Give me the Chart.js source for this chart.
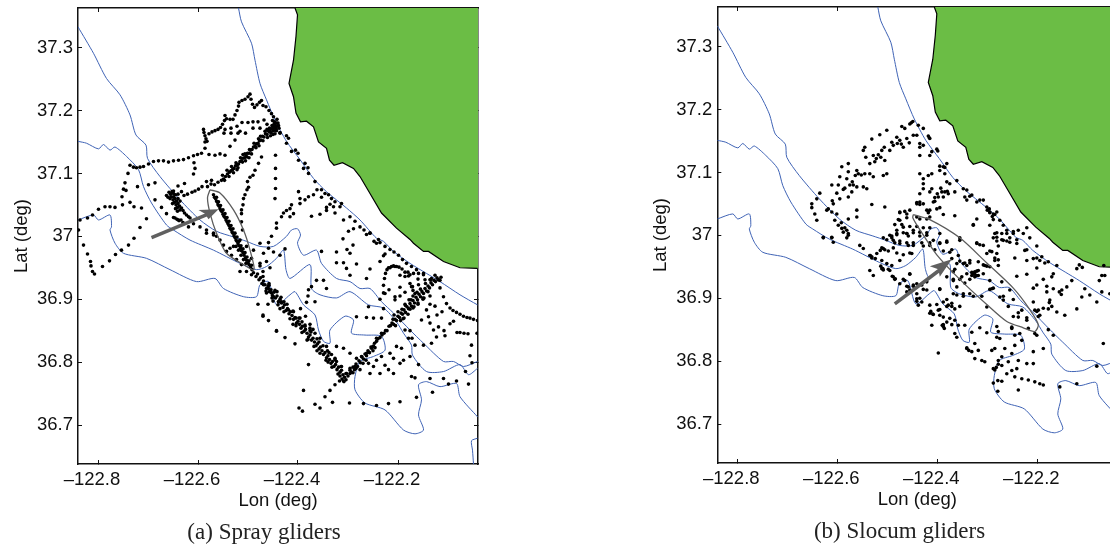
<!DOCTYPE html>
<html>
<head>
<meta charset="utf-8">
<title>Glider tracks</title>
<script src="https://cdn.jsdelivr.net/npm/chart.js@4"></script>
<style>
html, body { margin: 0; padding: 0; background: #fff; overflow: hidden; width: 1110px; height: 545px; }
canvas { position: absolute; }
</style>
</head>
<body>
<canvas id="spray" width="528" height="545" style="left:0;top:0"></canvas>
<canvas id="slocum" width="521" height="545" style="left:639px;top:-1px"></canvas>
<script>
const lonTicks = [-122.8, -122.6, -122.4, -122.2];
const lonTickLabels = ['\u2013122.8', '\u2013122.6', '\u2013122.4', '\u2013122.2'];
const latTicks = [37.3, 37.2, 37.1, 37, 36.9, 36.8, 36.7];
const latTickLabels = ['37.3', '37.2', '37.1', '37', '36.9', '36.8', '36.7'];
const lonRange = [-122.84, -122.04];
const latRange = [36.638, 37.363];

/* coast and land */
const coast = [[-122.406,37.363],[-122.401,37.352],[-122.404,37.318],[-122.409,37.280],[-122.418,37.243],[-122.409,37.222],[-122.404,37.196],[-122.395,37.182],[-122.383,37.183],[-122.369,37.174],[-122.359,37.150],[-122.343,37.140],[-122.337,37.121],[-122.328,37.113],[-122.311,37.117],[-122.289,37.108],[-122.276,37.095],[-122.256,37.068],[-122.233,37.037],[-122.203,37.013],[-122.176,36.995],[-122.169,36.989],[-122.149,36.976],[-122.139,36.976],[-122.109,36.960],[-122.076,36.950],[-122.041,36.949]];
const landCorners = [[-122.036,36.949],[-122.036,37.368],[-122.406,37.368]];

/* depth contours */
const contourA = [[-122.519,37.363],[-122.513,37.341],[-122.493,37.307],[-122.486,37.280],[-122.476,37.243],[-122.463,37.217],[-122.446,37.185],[-122.423,37.151],[-122.396,37.122],[-122.369,37.092],[-122.343,37.071],[-122.303,37.045],[-122.276,37.026],[-122.243,36.997],[-122.229,36.992],[-122.209,36.976],[-122.176,36.957],[-122.143,36.941],[-122.116,36.928],[-122.076,36.907],[-122.041,36.891]];
const contourB = [[-122.840,37.333],[-122.809,37.291],[-122.783,37.251],[-122.756,37.225],[-122.736,37.193],[-122.724,37.161],[-122.704,37.145],[-122.701,37.124],[-122.676,37.095],[-122.636,37.058],[-122.596,37.026],[-122.563,37.008],[-122.529,36.999],[-122.503,36.992],[-122.476,36.984],[-122.449,36.984],[-122.423,37.000],[-122.413,37.010],[-122.401,37.012],[-122.395,37.002],[-122.401,36.989],[-122.389,36.970],[-122.363,36.978],[-122.353,36.957],[-122.323,36.933],[-122.296,36.928],[-122.276,36.917],[-122.256,36.917],[-122.233,36.896],[-122.209,36.878],[-122.176,36.851],[-122.149,36.830],[-122.109,36.801],[-122.089,36.801],[-122.069,36.793],[-122.041,36.801]];
const contourC = [[-122.840,37.151],[-122.823,37.148],[-122.799,37.139],[-122.789,37.146],[-122.776,37.137],[-122.766,37.142],[-122.743,37.127],[-122.719,37.106],[-122.709,37.079],[-122.693,37.053],[-122.663,37.018],[-122.649,37.010],[-122.616,36.994],[-122.569,36.978],[-122.516,36.957],[-122.483,36.947],[-122.463,36.952],[-122.443,36.965],[-122.429,36.978],[-122.424,36.947],[-122.416,36.933],[-122.376,36.955],[-122.373,36.917],[-122.356,36.907],[-122.323,36.902],[-122.296,36.912],[-122.259,36.891],[-122.229,36.886],[-122.203,36.864],[-122.189,36.846],[-122.173,36.827],[-122.171,36.811],[-122.143,36.785],[-122.109,36.785],[-122.076,36.796],[-122.059,36.780],[-122.041,36.790]];
const contourD = [[-122.840,37.026],[-122.809,37.034],[-122.799,37.026],[-122.776,37.034],[-122.773,37.015],[-122.776,37.010],[-122.766,36.989],[-122.749,36.973],[-122.703,36.965],[-122.656,36.947],[-122.603,36.928],[-122.566,36.933],[-122.549,36.917],[-122.509,36.904],[-122.483,36.904],[-122.476,36.923],[-122.459,36.928],[-122.443,36.891],[-122.416,36.907],[-122.406,36.912],[-122.389,36.891],[-122.366,36.875],[-122.359,36.851],[-122.349,36.833],[-122.336,36.830],[-122.336,36.851],[-122.306,36.873],[-122.289,36.867],[-122.293,36.846],[-122.266,36.843],[-122.233,36.841],[-122.226,36.819],[-122.249,36.809],[-122.276,36.801],[-122.286,36.777],[-122.286,36.756],[-122.266,36.735],[-122.226,36.724],[-122.189,36.692],[-122.166,36.686],[-122.149,36.692],[-122.159,36.716],[-122.153,36.740],[-122.159,36.764],[-122.143,36.769],[-122.116,36.761],[-122.083,36.766],[-122.076,36.745],[-122.041,36.713]];
const contourE = [[-122.041,36.679],[-122.053,36.675],[-122.051,36.660],[-122.049,36.638]];

/* spray gliders */
const sprayNorthLeg = [[-122.443,37.180],[-122.446,37.176],[-122.448,37.178],[-122.450,37.172],[-122.452,37.176],[-122.455,37.170],[-122.457,37.166],[-122.460,37.168],[-122.462,37.162],[-122.465,37.163],[-122.468,37.158],[-122.471,37.159],[-122.474,37.153],[-122.477,37.152],[-122.480,37.148],[-122.483,37.147],[-122.486,37.143],[-122.489,37.142],[-122.492,37.138],[-122.495,37.137],[-122.498,37.132],[-122.501,37.132],[-122.504,37.128],[-122.507,37.125],[-122.510,37.124],[-122.513,37.120],[-122.516,37.119],[-122.519,37.115],[-122.522,37.113],[-122.525,37.112],[-122.528,37.108],[-122.531,37.106],[-122.534,37.104],[-122.537,37.102],[-122.541,37.099],[-122.545,37.095],[-122.549,37.091],[-122.553,37.089],[-122.560,37.086],[-122.567,37.082],[-122.574,37.083],[-122.581,37.079],[-122.441,37.175],[-122.444,37.170],[-122.447,37.182],[-122.438,37.172],[-122.442,37.186],[-122.451,37.184],[-122.436,37.165],[-122.446,37.163],[-122.455,37.160],[-122.462,37.170],[-122.478,37.144],[-122.498,37.125],[-122.510,37.130],[-122.522,37.106],[-122.505,37.120],[-122.449,37.168],[-122.453,37.171],[-122.457,37.172],[-122.461,37.157],[-122.466,37.167],[-122.470,37.152],[-122.475,37.159],[-122.479,37.155],[-122.484,37.141],[-122.488,37.148],[-122.493,37.131],[-122.497,37.138],[-122.502,37.126],[-122.506,37.131],[-122.511,37.118],[-122.515,37.125],[-122.520,37.109],[-122.524,37.117],[-122.529,37.101],[-122.533,37.111],[-122.538,37.095],[-122.542,37.105],[-122.547,37.089],[-122.551,37.097],[-122.440,37.180],[-122.445,37.172],[-122.449,37.175],[-122.443,37.168],[-122.439,37.176],[-122.454,37.165],[-122.450,37.162]];
const sprayWiggle = [[-122.589,37.170],[-122.588,37.165],[-122.586,37.160],[-122.584,37.155],[-122.582,37.151],[-122.586,37.150],[-122.578,37.163],[-122.572,37.166],[-122.566,37.168],[-122.560,37.170],[-122.555,37.173],[-122.551,37.178],[-122.547,37.184],[-122.546,37.192],[-122.543,37.187],[-122.536,37.186],[-122.530,37.186],[-122.526,37.193],[-122.522,37.200],[-122.519,37.207],[-122.518,37.213],[-122.512,37.216],[-122.506,37.218],[-122.500,37.222],[-122.496,37.226],[-122.494,37.218],[-122.491,37.210],[-122.487,37.205],[-122.482,37.209],[-122.477,37.213],[-122.473,37.216],[-122.470,37.208],[-122.464,37.206],[-122.458,37.200],[-122.453,37.195],[-122.449,37.190],[-122.546,37.170],[-122.534,37.172],[-122.522,37.175],[-122.512,37.181],[-122.500,37.181],[-122.490,37.182],[-122.480,37.182],[-122.468,37.185],[-122.548,37.164],[-122.534,37.164],[-122.520,37.164],[-122.505,37.164],[-122.490,37.172],[-122.476,37.172],[-122.462,37.178],[-122.736,37.113],[-122.729,37.110],[-122.723,37.109],[-122.716,37.110],[-122.709,37.111],[-122.699,37.115],[-122.689,37.119],[-122.679,37.120],[-122.669,37.120],[-122.659,37.118],[-122.649,37.120],[-122.639,37.121],[-122.629,37.122],[-122.619,37.125],[-122.609,37.128],[-122.601,37.130],[-122.593,37.132],[-122.586,37.140],[-122.578,37.130],[-122.566,37.129],[-122.556,37.131],[-122.546,37.129],[-122.536,37.143],[-122.526,37.153],[-122.516,37.167],[-122.608,37.117],[-122.606,37.108],[-122.609,37.099],[-122.627,37.084],[-122.640,37.080],[-122.649,37.072],[-122.660,37.062]];
const sprayBlob = [[-122.663,37.065],[-122.658,37.070],[-122.652,37.071],[-122.645,37.066],[-122.633,37.071],[-122.628,37.065],[-122.636,37.056],[-122.649,37.063],[-122.646,37.060],[-122.650,37.058],[-122.643,37.056],[-122.647,37.054],[-122.640,37.052],[-122.644,37.050],[-122.637,37.048],[-122.641,37.046],[-122.633,37.045],[-122.636,37.042],[-122.630,37.041],[-122.627,37.037],[-122.623,37.034],[-122.619,37.031],[-122.616,37.029],[-122.654,37.063],[-122.656,37.060],[-122.651,37.052],[-122.646,37.029],[-122.642,37.027],[-122.638,37.025],[-122.634,37.026],[-122.630,37.022],[-122.621,37.067],[-122.612,37.070],[-122.606,37.072],[-122.599,37.075],[-122.592,37.079],[-122.583,37.087],[-122.573,37.089],[-122.655,37.067],[-122.649,37.068],[-122.640,37.060],[-122.645,37.044],[-122.641,37.040],[-122.640,37.067]];
const sprayInnerLeg = [[-122.569,37.066],[-122.567,37.062],[-122.565,37.060],[-122.563,37.056],[-122.561,37.054],[-122.560,37.050],[-122.558,37.048],[-122.556,37.044],[-122.554,37.041],[-122.552,37.039],[-122.550,37.035],[-122.548,37.032],[-122.546,37.030],[-122.544,37.026],[-122.542,37.023],[-122.540,37.020],[-122.538,37.017],[-122.536,37.013],[-122.534,37.011],[-122.532,37.007],[-122.530,37.005],[-122.528,37.001],[-122.526,36.998],[-122.524,36.994],[-122.522,36.992],[-122.520,36.988],[-122.518,36.985],[-122.515,36.981],[-122.513,36.977],[-122.510,36.974],[-122.508,36.970],[-122.505,36.966],[-122.503,36.962],[-122.500,36.958],[-122.498,36.955],[-122.495,36.951],[-122.492,36.947],[-122.489,36.942],[-122.563,37.062],[-122.559,37.055],[-122.555,37.049],[-122.550,37.042],[-122.546,37.036],[-122.542,37.030],[-122.538,37.024],[-122.534,37.017],[-122.530,37.012],[-122.526,37.005],[-122.522,36.999],[-122.518,36.992],[-122.514,36.985],[-122.510,36.980],[-122.506,36.974],[-122.502,36.967],[-122.498,36.961],[-122.493,36.954],[-122.524,36.984],[-122.519,36.978],[-122.514,36.970],[-122.509,36.963],[-122.504,36.957]];
const spraySouthFlank = [[-122.596,37.015],[-122.583,37.010],[-122.569,37.005],[-122.563,37.000],[-122.583,37.005],[-122.569,37.002],[-122.556,36.994],[-122.549,36.986],[-122.543,36.976],[-122.536,36.981],[-122.533,36.970],[-122.523,36.963],[-122.513,36.955],[-122.503,36.944],[-122.493,36.939],[-122.516,36.944],[-122.529,36.984],[-122.516,36.994],[-122.503,36.984],[-122.489,36.978],[-122.493,36.965],[-122.476,36.957],[-122.469,36.973],[-122.459,36.981],[-122.476,36.989],[-122.476,36.953],[-122.470,36.944],[-122.456,36.950],[-122.463,36.960]];
const spraySouthLeg = [[-122.484,36.936],[-122.481,36.940],[-122.478,36.931],[-122.475,36.934],[-122.472,36.925],[-122.469,36.929],[-122.466,36.923],[-122.463,36.917],[-122.460,36.921],[-122.457,36.912],[-122.454,36.915],[-122.451,36.906],[-122.448,36.911],[-122.445,36.902],[-122.442,36.905],[-122.439,36.896],[-122.436,36.900],[-122.433,36.894],[-122.430,36.887],[-122.427,36.891],[-122.424,36.882],[-122.421,36.885],[-122.418,36.877],[-122.415,36.880],[-122.412,36.874],[-122.409,36.868],[-122.406,36.871],[-122.403,36.862],[-122.400,36.865],[-122.397,36.860],[-122.394,36.854],[-122.391,36.857],[-122.388,36.849],[-122.385,36.852],[-122.382,36.846],[-122.379,36.840],[-122.376,36.843],[-122.373,36.835],[-122.370,36.838],[-122.367,36.832],[-122.364,36.826],[-122.361,36.829],[-122.358,36.821],[-122.355,36.824],[-122.352,36.818],[-122.349,36.812],[-122.346,36.815],[-122.343,36.807],[-122.340,36.810],[-122.337,36.804],[-122.334,36.798],[-122.331,36.801],[-122.328,36.793],[-122.325,36.796],[-122.322,36.788],[-122.319,36.792],[-122.316,36.784],[-122.313,36.787],[-122.310,36.780],[-122.307,36.776],[-122.304,36.772],[-122.309,36.770],[-122.304,36.782],[-122.458,36.922],[-122.442,36.912],[-122.428,36.896],[-122.404,36.870],[-122.392,36.864],[-122.376,36.850],[-122.358,36.832],[-122.341,36.818],[-122.326,36.806],[-122.450,36.897],[-122.436,36.885],[-122.410,36.860],[-122.382,36.835],[-122.362,36.818],[-122.340,36.800],[-122.395,36.885],[-122.385,36.873],[-122.376,36.860],[-122.370,36.852],[-122.470,36.936],[-122.464,36.913],[-122.458,36.925],[-122.452,36.902],[-122.446,36.914],[-122.440,36.891],[-122.434,36.903],[-122.428,36.880],[-122.422,36.892],[-122.416,36.869],[-122.410,36.881],[-122.404,36.858],[-122.398,36.870],[-122.392,36.847],[-122.386,36.859],[-122.380,36.836],[-122.374,36.848],[-122.368,36.825],[-122.362,36.837],[-122.356,36.814],[-122.350,36.826],[-122.344,36.803],[-122.338,36.815],[-122.332,36.792],[-122.326,36.804],[-122.320,36.781],[-122.314,36.793],[-122.308,36.769],[-122.312,36.773],[-122.316,36.778],[-122.469,36.923],[-122.459,36.917],[-122.453,36.910],[-122.463,36.910],[-122.449,36.904],[-122.439,36.896],[-122.433,36.896],[-122.419,36.883],[-122.409,36.880],[-122.396,36.870],[-122.386,36.857],[-122.376,36.854],[-122.366,36.846],[-122.356,36.838],[-122.343,36.825],[-122.333,36.812],[-122.323,36.801],[-122.313,36.793],[-122.303,36.782],[-122.296,36.790],[-122.286,36.793],[-122.296,36.782],[-122.273,36.809],[-122.263,36.814],[-122.253,36.822],[-122.243,36.838],[-122.233,36.846]];
const sprayEastLeg = [[-122.300,36.778],[-122.296,36.787],[-122.293,36.784],[-122.290,36.792],[-122.287,36.788],[-122.284,36.797],[-122.281,36.793],[-122.278,36.802],[-122.275,36.799],[-122.272,36.808],[-122.269,36.805],[-122.266,36.813],[-122.263,36.810],[-122.260,36.818],[-122.257,36.815],[-122.254,36.824],[-122.250,36.825],[-122.247,36.830],[-122.243,36.833],[-122.240,36.837],[-122.236,36.839],[-122.232,36.843],[-122.228,36.846],[-122.225,36.850],[-122.222,36.850],[-122.218,36.857],[-122.215,36.858],[-122.212,36.862],[-122.209,36.860],[-122.206,36.868],[-122.203,36.866],[-122.200,36.873],[-122.197,36.871],[-122.194,36.878],[-122.191,36.876],[-122.188,36.883],[-122.185,36.879],[-122.182,36.888],[-122.179,36.885],[-122.176,36.893],[-122.173,36.889],[-122.170,36.898],[-122.167,36.894],[-122.164,36.903],[-122.161,36.899],[-122.158,36.908],[-122.155,36.904],[-122.152,36.912],[-122.149,36.909],[-122.146,36.917],[-122.143,36.913],[-122.140,36.921],[-122.137,36.918],[-122.134,36.926],[-122.131,36.923],[-122.128,36.930],[-122.125,36.928],[-122.122,36.934],[-122.119,36.931],[-122.116,36.930],[-122.200,36.880],[-122.192,36.884],[-122.185,36.890],[-122.176,36.884],[-122.168,36.888],[-122.160,36.892],[-122.178,36.899],[-122.170,36.905],[-122.162,36.911],[-122.195,36.866],[-122.188,36.870],[-122.208,36.875],[-122.150,36.900],[-122.126,36.938],[-122.133,36.933],[-122.114,36.935],[-122.210,36.868],[-122.205,36.858],[-122.190,36.869],[-122.186,36.892],[-122.180,36.876],[-122.174,36.899],[-122.170,36.886],[-122.166,36.909],[-122.160,36.894],[-122.155,36.916],[-122.150,36.902],[-122.145,36.925],[-122.140,36.912],[-122.135,36.931],[-122.290,36.783],[-122.284,36.790],[-122.270,36.798],[-122.264,36.803],[-122.250,36.818],[-122.246,36.823]];
const sprayCoastal = [[-122.436,37.164],[-122.423,37.148],[-122.413,37.135],[-122.399,37.121],[-122.389,37.108],[-122.379,37.100],[-122.366,37.087],[-122.353,37.074],[-122.339,37.066],[-122.326,37.055],[-122.316,37.047],[-122.296,37.031],[-122.276,37.015],[-122.256,37.005],[-122.239,36.995],[-122.256,37.005],[-122.236,36.990],[-122.216,36.979],[-122.199,36.970],[-122.183,36.957],[-122.163,36.947],[-122.149,36.939],[-122.136,36.931],[-122.423,37.160],[-122.419,37.156],[-122.405,37.137],[-122.400,37.132],[-122.386,37.116],[-122.380,37.109],[-122.353,37.062],[-122.343,37.046],[-122.326,37.037],[-122.309,37.026],[-122.299,37.008],[-122.289,37.012],[-122.263,37.003],[-122.290,36.986],[-122.296,36.973],[-122.243,36.989],[-122.226,36.972],[-122.206,36.952],[-122.346,37.068],[-122.333,37.060],[-122.286,37.024],[-122.268,37.010],[-122.248,36.992],[-122.226,36.984],[-122.208,36.975],[-122.191,36.963],[-122.173,36.952]];
const sprayColumns = [[-122.445,37.129],[-122.445,37.108],[-122.445,37.092],[-122.445,37.076],[-122.446,37.060],[-122.473,37.126],[-122.479,37.116],[-122.486,37.105],[-122.490,37.097],[-122.496,37.094],[-122.501,37.087],[-122.499,37.078],[-122.502,37.074],[-122.506,37.066],[-122.509,37.060],[-122.510,37.050],[-122.513,37.042],[-122.513,37.036],[-122.513,37.023],[-122.511,37.010],[-122.453,37.000],[-122.443,37.013],[-122.433,37.031],[-122.423,37.041],[-122.413,37.050],[-122.396,37.060],[-122.379,37.063],[-122.362,37.074],[-122.443,37.021],[-122.429,37.037],[-122.416,37.044],[-122.409,37.036],[-122.416,37.031],[-122.396,37.052],[-122.386,37.058],[-122.369,37.066],[-122.399,37.071],[-122.373,37.032],[-122.356,37.035],[-122.343,37.041],[-122.329,37.047],[-122.313,37.052],[-122.336,37.051],[-122.459,36.990],[-122.449,36.975],[-122.436,36.970],[-122.426,36.980],[-122.310,36.996],[-122.323,36.975],[-122.353,36.976]];
const sprayWest = [[-122.799,37.043],[-122.811,37.034],[-122.786,37.047],[-122.776,37.047],[-122.766,37.046],[-122.751,37.050],[-122.736,37.054],[-122.728,37.047],[-122.713,37.045],[-122.686,37.058],[-122.673,37.046],[-122.703,37.028],[-122.716,37.014],[-122.728,36.997],[-122.663,37.036],[-122.649,37.030],[-122.639,37.026],[-122.629,37.020],[-122.619,37.015],[-122.609,37.020],[-122.839,37.010],[-122.821,37.029],[-122.836,37.026],[-122.829,36.986],[-122.821,36.972],[-122.815,36.960],[-122.814,36.953],[-122.811,36.944],[-122.807,36.940],[-122.791,36.952],[-122.777,36.961],[-122.765,36.971],[-122.753,36.978],[-122.739,36.986],[-122.740,37.100],[-122.746,37.085],[-122.749,37.075],[-122.744,37.073],[-122.752,37.063],[-122.721,37.079],[-122.699,37.082],[-122.686,37.085],[-122.460,36.892],[-122.470,36.875],[-122.480,36.892],[-122.470,36.873],[-122.459,36.866],[-122.443,36.849],[-122.443,36.850],[-122.426,36.839],[-122.406,36.829],[-122.379,36.796],[-122.389,36.755],[-122.398,36.727],[-122.391,36.722],[-122.356,36.727],[-122.366,36.733],[-122.346,36.745],[-122.336,36.755],[-122.326,36.764],[-122.317,36.770],[-122.331,36.736],[-122.297,36.735]];
const sprayEastCloud = [[-122.276,36.788],[-122.259,36.798],[-122.249,36.793],[-122.236,36.782],[-122.219,36.788],[-122.209,36.782],[-122.196,36.798],[-122.176,36.809],[-122.159,36.796],[-122.173,36.777],[-122.166,36.775],[-122.136,36.774],[-122.109,36.774],[-122.099,36.765],[-122.083,36.770],[-122.059,36.765],[-122.131,36.752],[-122.163,36.744],[-122.196,36.737],[-122.219,36.734],[-122.243,36.731],[-122.269,36.734],[-122.309,36.822],[-122.296,36.814],[-122.283,36.806],[-122.323,36.825],[-122.249,36.825],[-122.233,36.809],[-122.216,36.814],[-122.203,36.825],[-122.193,36.822],[-122.209,36.806],[-122.189,36.803],[-122.226,36.795],[-122.243,36.803],[-122.256,36.782],[-122.283,36.872],[-122.263,36.871],[-122.249,36.870],[-122.233,36.870],[-122.259,36.888],[-122.229,36.885],[-122.379,36.915],[-122.373,36.920],[-122.363,36.930],[-122.349,36.930],[-122.343,36.917],[-122.380,36.905],[-122.383,36.895],[-122.366,36.896],[-122.302,36.979],[-122.256,36.948],[-122.236,36.960],[-122.229,36.969],[-122.216,36.950],[-122.196,36.938],[-122.180,36.943],[-122.160,36.932],[-122.171,36.920],[-122.176,36.925],[-122.186,36.911],[-122.196,36.905],[-122.206,36.899],[-122.170,36.914],[-122.226,36.909],[-122.218,36.915],[-122.236,36.900],[-122.283,36.956],[-122.309,36.958],[-122.303,36.949],[-122.296,36.938],[-122.323,36.958],[-122.263,36.933]];
const sprayHook = [[-122.229,36.910],[-122.229,36.922],[-122.227,36.933],[-122.225,36.941],[-122.222,36.947],[-122.219,36.950],[-122.213,36.952],[-122.209,36.953],[-122.203,36.952],[-122.198,36.951],[-122.192,36.948],[-122.186,36.943],[-122.179,36.937],[-122.176,36.939],[-122.169,36.941],[-122.159,36.941],[-122.149,36.941],[-122.186,36.936],[-122.196,36.919],[-122.206,36.904],[-122.173,36.920],[-122.159,36.923],[-122.146,36.931]];
const sprayEastArcs = [[-122.119,36.931],[-122.116,36.918],[-122.109,36.904],[-122.096,36.886],[-122.083,36.879],[-122.069,36.873],[-122.056,36.870],[-122.041,36.866],[-122.089,36.865],[-122.096,36.861],[-122.108,36.850],[-122.119,36.856],[-122.076,36.847],[-122.060,36.845],[-122.042,36.846],[-122.143,36.883],[-122.139,36.872],[-122.153,36.867],[-122.136,36.862],[-122.129,36.851],[-122.123,36.840],[-122.133,36.830],[-122.149,36.827],[-122.166,36.827],[-122.179,36.838],[-122.186,36.851],[-122.176,36.850],[-122.172,36.838],[-122.136,36.892],[-122.126,36.889],[-122.112,36.880],[-122.122,36.875],[-122.106,36.842],[-122.053,36.827],[-122.056,36.810],[-122.052,36.799],[-122.065,36.785],[-122.148,36.902],[-122.136,36.905],[-122.103,36.893],[-122.090,36.882],[-122.076,36.876],[-122.062,36.871],[-122.049,36.868],[-122.082,36.847],[-122.068,36.846]];

/* slocum gliders */
const slocumNorth = [[-122.501,37.167],[-122.515,37.160],[-122.531,37.153],[-122.545,37.140],[-122.543,37.124],[-122.548,37.135],[-122.528,37.127],[-122.525,37.117],[-122.535,37.114],[-122.511,37.135],[-122.505,37.119],[-122.495,37.135],[-122.488,37.143],[-122.475,37.151],[-122.471,37.173],[-122.465,37.170],[-122.491,37.148],[-122.481,37.156],[-122.468,37.140],[-122.461,37.154],[-122.448,37.159],[-122.441,37.159],[-122.435,37.146],[-122.428,37.143],[-122.411,37.133],[-122.415,37.127],[-122.435,37.127],[-122.501,37.098],[-122.508,37.095],[-122.528,37.093],[-122.535,37.098],[-122.545,37.098],[-122.561,37.103],[-122.578,37.114],[-122.591,37.109],[-122.578,37.101],[-122.595,37.093],[-122.581,37.090],[-122.575,37.080],[-122.568,37.080],[-122.588,37.073],[-122.601,37.067],[-122.611,37.080],[-122.598,37.080],[-122.561,37.077],[-122.548,37.077],[-122.541,37.074],[-122.571,37.069],[-122.578,37.061],[-122.595,37.058],[-122.608,37.050],[-122.635,37.067],[-122.641,37.058],[-122.651,37.050],[-122.651,37.044],[-122.645,37.034],[-122.641,37.024],[-122.621,37.040],[-122.611,37.037],[-122.601,37.034],[-122.605,37.024],[-122.598,37.016],[-122.591,37.011],[-122.581,37.008],[-122.578,37.003],[-122.561,37.040],[-122.561,37.029],[-122.578,37.026],[-122.531,37.049],[-122.505,37.045],[-122.628,36.996],[-122.611,36.996],[-122.581,36.996],[-122.508,36.996],[-122.491,36.996],[-122.481,37.008],[-122.475,37.037],[-122.461,37.034],[-122.455,37.040],[-122.475,37.024],[-122.468,37.013],[-122.461,37.003],[-122.448,37.008],[-122.441,37.029],[-122.435,37.026],[-122.421,37.026],[-122.415,37.029],[-122.441,37.050],[-122.435,37.053],[-122.415,37.040],[-122.421,37.040],[-122.401,37.042],[-122.408,37.053],[-122.398,37.061],[-122.388,37.061],[-122.391,37.069],[-122.385,37.069],[-122.378,37.066],[-122.365,37.069],[-122.411,37.074],[-122.435,37.066],[-122.428,37.074],[-122.415,37.069],[-122.428,37.082],[-122.435,37.098],[-122.428,37.090],[-122.418,37.095],[-122.411,37.098],[-122.381,37.114],[-122.388,37.109],[-122.395,37.103],[-122.385,37.098],[-122.381,37.085],[-122.375,37.082],[-122.361,37.087],[-122.348,37.074],[-122.341,37.072],[-122.331,37.064],[-122.345,37.061],[-122.341,37.056],[-122.315,37.056],[-122.308,37.056],[-122.321,37.053],[-122.301,37.045],[-122.295,37.037],[-122.288,37.034],[-122.281,37.037],[-122.275,37.024],[-122.268,37.016],[-122.261,37.008],[-122.248,37.003],[-122.238,37.008],[-122.228,37.003],[-122.215,36.996],[-122.321,37.026],[-122.328,37.016],[-122.295,37.016],[-122.285,37.003],[-122.288,36.996],[-122.271,37.003],[-122.435,37.140],[-122.415,37.154],[-122.438,37.175],[-122.428,37.170],[-122.455,37.177],[-122.452,37.179],[-122.449,37.181],[-122.418,37.158],[-122.416,37.155],[-122.401,37.137],[-122.399,37.134],[-122.518,37.128],[-122.522,37.122],[-122.513,37.124],[-122.506,37.140],[-122.480,37.146],[-122.472,37.145],[-122.456,37.147],[-122.585,37.075],[-122.570,37.085],[-122.564,37.095],[-122.558,37.098],[-122.552,37.096],[-122.610,37.055],[-122.618,37.042],[-122.592,37.020],[-122.585,37.012],[-122.395,37.110],[-122.385,37.108],[-122.380,37.070],[-122.393,37.075],[-122.400,37.066],[-122.405,37.060],[-122.335,37.062],[-122.300,37.040],[-122.290,37.030],[-122.296,37.042]];
const slocumSouth = [[-122.628,36.997],[-122.611,36.997],[-122.608,36.989],[-122.588,37.005],[-122.578,37.000],[-122.555,36.984],[-122.548,36.979],[-122.534,36.968],[-122.531,36.966],[-122.524,36.963],[-122.514,36.976],[-122.508,36.979],[-122.521,36.971],[-122.511,36.960],[-122.501,36.955],[-122.491,36.952],[-122.535,36.944],[-122.528,36.936],[-122.511,36.947],[-122.508,36.945],[-122.488,36.934],[-122.484,36.931],[-122.475,36.923],[-122.465,36.928],[-122.458,36.918],[-122.461,36.910],[-122.448,36.921],[-122.455,36.913],[-122.441,36.923],[-122.431,36.921],[-122.421,36.926],[-122.421,36.913],[-122.441,36.907],[-122.441,36.899],[-122.431,36.894],[-122.438,36.889],[-122.415,36.889],[-122.415,36.876],[-122.398,36.881],[-122.388,36.894],[-122.378,36.889],[-122.371,36.887],[-122.365,36.883],[-122.395,36.915],[-122.381,36.934],[-122.368,36.928],[-122.361,36.918],[-122.348,36.907],[-122.368,36.907],[-122.361,36.905],[-122.335,36.907],[-122.395,36.873],[-122.388,36.870],[-122.375,36.868],[-122.381,36.862],[-122.365,36.865],[-122.358,36.857],[-122.345,36.857],[-122.365,36.844],[-122.361,36.838],[-122.411,36.857],[-122.388,36.855],[-122.331,36.846],[-122.341,36.820],[-122.325,36.828],[-122.331,36.815],[-122.318,36.817],[-122.325,36.804],[-122.311,36.801],[-122.305,36.799],[-122.398,36.813],[-122.291,36.817],[-122.285,36.820],[-122.265,36.820],[-122.271,36.807],[-122.288,36.788],[-122.278,36.801],[-122.251,36.812],[-122.258,36.799],[-122.271,36.793],[-122.261,36.780],[-122.251,36.785],[-122.241,36.788],[-122.245,36.775],[-122.288,36.765],[-122.279,36.769],[-122.271,36.768],[-122.279,36.752],[-122.238,36.754],[-122.231,36.772],[-122.218,36.770],[-122.205,36.767],[-122.195,36.764],[-122.188,36.762],[-122.155,36.759],[-122.121,36.764],[-122.208,36.796],[-122.221,36.796],[-122.188,36.820],[-122.208,36.815],[-122.068,36.828],[-122.081,36.792],[-122.238,36.801],[-122.281,36.838],[-122.275,36.836],[-122.251,36.854],[-122.245,36.841],[-122.235,36.844],[-122.231,36.833],[-122.245,36.825],[-122.218,36.852],[-122.205,36.844],[-122.201,36.841],[-122.168,36.841],[-122.178,36.850],[-122.331,36.941],[-122.328,36.939],[-122.325,36.942],[-122.321,36.936],[-122.325,36.934],[-122.331,36.936],[-122.318,36.944],[-122.341,36.952],[-122.348,36.955],[-122.358,36.968],[-122.371,36.963],[-122.375,36.973],[-122.361,36.955],[-122.335,36.960],[-122.318,36.958],[-122.305,36.952],[-122.295,36.950],[-122.285,36.960],[-122.278,36.952],[-122.281,36.971],[-122.291,36.974],[-122.301,36.971],[-122.321,36.987],[-122.308,36.984],[-122.355,36.992],[-122.381,36.989],[-122.395,36.987],[-122.408,36.992],[-122.415,36.984],[-122.395,37.003],[-122.421,37.000],[-122.435,37.005],[-122.461,37.003],[-122.481,37.003],[-122.495,37.000],[-122.488,36.992],[-122.475,36.987],[-122.458,36.984],[-122.448,36.984],[-122.451,36.971],[-122.495,36.944],[-122.475,36.960],[-122.455,36.939],[-122.368,36.942],[-122.351,36.934],[-122.341,36.939],[-122.308,36.939],[-122.295,36.928],[-122.271,36.926],[-122.291,36.915],[-122.301,36.886],[-122.275,36.902],[-122.255,36.913],[-122.268,36.897],[-122.231,36.881],[-122.238,36.870],[-122.251,36.852],[-122.221,36.865],[-122.208,36.894],[-122.198,36.881],[-122.195,36.873],[-122.205,36.881],[-122.175,36.897],[-122.178,36.883],[-122.161,36.878],[-122.145,36.873],[-122.181,36.910],[-122.168,36.915],[-122.151,36.913],[-122.141,36.918],[-122.121,36.883],[-122.095,36.905],[-122.081,36.894],[-122.071,36.910],[-122.055,36.907],[-122.111,36.902],[-122.105,36.915],[-122.201,36.921],[-122.168,36.939],[-122.171,36.934],[-122.195,36.960],[-122.178,36.958],[-122.161,36.952],[-122.131,36.928],[-122.121,36.947],[-122.076,36.928],[-122.071,36.936],[-122.065,36.936],[-122.067,36.952],[-122.281,36.997],[-122.268,36.992],[-122.255,36.989],[-122.241,36.987],[-122.261,37.003],[-122.225,36.976],[-122.208,36.963],[-122.191,36.966],[-122.221,36.960]];
const slocumCentre = [[-122.441,37.052],[-122.435,37.049],[-122.428,37.050],[-122.405,37.054],[-122.395,37.044],[-122.418,37.036],[-122.388,37.033],[-122.365,37.031],[-122.475,37.036],[-122.465,37.038],[-122.478,37.025],[-122.461,37.028],[-122.485,37.017],[-122.471,37.017],[-122.455,37.014],[-122.441,37.014],[-122.428,37.012],[-122.415,37.012],[-122.491,36.999],[-122.481,37.001],[-122.468,37.004],[-122.458,36.999],[-122.448,37.004],[-122.435,36.999],[-122.421,37.004],[-122.475,36.991],[-122.461,36.988],[-122.448,36.988],[-122.431,36.988],[-122.485,36.988],[-122.501,36.993],[-122.511,36.980],[-122.505,36.977],[-122.498,36.975],[-122.488,36.980],[-122.481,36.972],[-122.468,36.969],[-122.455,36.972],[-122.428,36.983],[-122.415,36.988],[-122.405,36.977],[-122.388,36.975],[-122.371,36.977],[-122.395,36.988],[-122.381,36.991],[-122.355,36.996],[-122.328,37.017],[-122.321,36.988],[-122.315,36.985],[-122.295,36.975],[-122.285,36.964],[-122.278,36.961],[-122.301,36.951],[-122.308,36.953],[-122.325,36.938],[-122.321,36.943],[-122.328,36.940],[-122.318,36.936],[-122.335,36.956],[-122.345,36.956],[-122.355,36.959],[-122.365,36.946],[-122.355,36.930],[-122.345,36.924],[-122.335,36.930],[-122.368,36.930],[-122.371,36.892],[-122.381,36.887],[-122.395,36.882],[-122.355,36.887],[-122.348,36.903],[-122.328,36.903],[-122.311,36.903],[-122.295,36.914],[-122.288,36.916],[-122.268,36.903],[-122.258,36.887],[-122.248,36.898],[-122.248,36.871],[-122.238,36.877],[-122.221,36.869],[-122.201,36.879],[-122.188,36.884],[-122.198,36.871],[-122.281,36.855],[-122.278,36.847],[-122.301,36.845],[-122.315,36.853],[-122.371,36.858],[-122.388,36.858],[-122.408,36.874],[-122.435,36.900],[-122.441,36.895],[-122.448,36.919],[-122.461,36.919],[-122.455,36.938],[-122.498,36.946],[-122.468,36.930],[-122.428,36.914],[-122.395,36.914],[-122.381,36.898],[-122.401,36.890],[-122.288,37.025],[-122.295,37.036],[-122.285,37.033],[-122.281,37.004],[-122.271,36.993],[-122.261,36.991],[-122.255,36.996],[-122.241,36.993],[-122.281,36.991],[-122.278,36.983],[-122.248,37.006],[-122.221,37.012],[-122.201,36.983],[-122.221,36.977],[-122.201,36.964],[-122.185,36.956],[-122.201,36.948],[-122.245,36.964],[-122.208,36.916],[-122.181,36.919],[-122.188,36.930],[-122.221,36.938],[-122.241,36.935]];
const slocumDashes = [[-122.535,36.968],[-122.531,36.964],[-122.513,36.951],[-122.509,36.947],[-122.490,36.935],[-122.485,36.930],[-122.413,36.879],[-122.409,36.875],[-122.390,36.857],[-122.386,36.852],[-122.341,36.821],[-122.337,36.817],[-122.285,36.786],[-122.282,36.790],[-122.278,36.795],[-122.116,36.953],[-122.110,36.949],[-122.156,36.910],[-122.152,36.906],[-122.176,36.893],[-122.171,36.887]];

/* gray ellipses and arrows */
const sprayEllipse = [[-122.576,37.074],[-122.556,37.069],[-122.529,37.042],[-122.509,37.010],[-122.496,36.978],[-122.488,36.947],[-122.509,36.955],[-122.543,36.973],[-122.563,37.005],[-122.576,37.037],[-122.581,37.061],[-122.576,37.074]];
const sprayShaft = [[-122.693,36.998],[-122.575,37.037]];
const sprayHead = [[-122.559,37.043],[-122.599,37.042],[-122.586,37.036],[-122.579,37.027]];
const slocumEllipse = [[-122.448,37.033],[-122.415,37.025],[-122.355,36.996],[-122.301,36.956],[-122.248,36.916],[-122.215,36.882],[-122.198,36.858],[-122.205,36.847],[-122.228,36.853],[-122.261,36.863],[-122.301,36.890],[-122.355,36.930],[-122.401,36.969],[-122.435,37.009],[-122.449,37.028],[-122.448,37.033]];
const slocumShaft = [[-122.485,36.891],[-122.390,36.948]];
const slocumHead = [[-122.371,36.962],[-122.415,36.951],[-122.398,36.946],[-122.395,36.934]];

function pts(list) {
    return list.map(function (p) {
        return { x: p[0], y: p[1] };
    });
}

function lineSet(list, color, width) {
    return {
        data: pts(list), showLine: true, borderColor: color, borderWidth: width,
        pointRadius: 0, tension: 0.25, fill: false
    };
}

function areaSet(list, color) {
    return {
        data: pts(list), showLine: true, borderColor: 'rgba(0,0,0,0)', borderWidth: 0,
        backgroundColor: color, pointRadius: 0, tension: 0, fill: 'shape', clip: 3
    };
}

function dotSet(list) {
    return {
        data: pts(list), showLine: false, pointRadius: 1.8, pointBorderWidth: 0,
        pointBackgroundColor: '#000'
    };
}

function buildPanel(id, canvasWidth, yWidth, caption, dots, ellipse, shaft, head) {
    var sets = [
        areaSet(head, '#606060'),
        lineSet(shaft, '#606060', 3.6),
        lineSet(ellipse, '#5c5c5c', 1.3)
    ];
    dots.forEach(function (d) {
        sets.push(dotSet(d));
    });
    [contourA, contourB, contourC, contourD, contourE].forEach(function (c) {
        sets.push(lineSet(c, '#3f63b5', 1));
    });
    var coastLine = lineSet(coast, '#000', 1.2);
    coastLine.tension = 0;
    sets.push(coastLine);
    sets.push(areaSet(coast.concat(landCorners), '#6bbd45'));

    var setTicks = function (vals) {
        return function (scale) {
            scale.ticks = vals.map(function (v) { return { value: v }; });
        };
    };
    var axisBorder = { color: '#111', width: 1.5 };
    var grid = { drawOnChartArea: false, tickLength: -4, tickColor: '#111', tickWidth: 1 };
    var font = { family: '"Liberation Sans", Arial, sans-serif', size: 18.5 };

    return new Chart(document.getElementById(id), {
        type: 'scatter',
        data: { datasets: sets },
        options: {
            responsive: false,
            animation: false,
            layout: { padding: { top: 8, right: 0, left: 0, bottom: 0 } },
            plugins: {
                legend: { display: false },
                tooltip: { enabled: false },
                title: {
                    display: true, text: caption, position: 'bottom', color: '#222',
                    font: { family: '"Liberation Serif", serif', size: 23, weight: 'normal' },
                    padding: { top: 2, bottom: -2 }
                }
            },
            scales: {
                x: {
                    type: 'linear', position: 'bottom', min: lonRange[0], max: lonRange[1],
                    border: axisBorder, grid: grid,
                    afterBuildTicks: setTicks(lonTicks),
                    afterFit: function (s) { s.height = 53.4; s.paddingLeft = 0; s.paddingRight = 0; },
                    ticks: {
                        autoSkip: false, maxRotation: 0, color: '#111', font: font, padding: 9, labelOffset: -6,
                        callback: function (v, i) { return lonTickLabels[i]; }
                    },
                    title: { display: true, text: 'Lon (deg)', color: '#111', font: font, padding: { top: 0, bottom: 5 } }
                },
                y: {
                    type: 'linear', position: 'left', min: latRange[0], max: latRange[1],
                    border: axisBorder, grid: grid,
                    afterBuildTicks: setTicks(latTicks),
                    afterFit: function (s) { s.width = yWidth; s.paddingTop = 0; s.paddingBottom = 0; },
                    ticks: {
                        autoSkip: false, color: '#111', font: font, padding: 9,
                        callback: function (v, i) { return latTickLabels[i]; }
                    },
                    title: { display: true, text: 'Lat (deg)', color: '#111', font: font, padding: { top: 11, bottom: 0 } }
                },
                xTop: {
                    type: 'linear', position: 'top', min: lonRange[0], max: lonRange[1],
                    border: axisBorder, grid: grid,
                    afterBuildTicks: setTicks(lonTicks),
                    afterFit: function (s) { s.height = 0; s.paddingLeft = 0; s.paddingRight = 0; },
                    ticks: { display: false }
                },
                yRight: {
                    type: 'linear', position: 'right', min: latRange[0], max: latRange[1],
                    border: axisBorder, grid: grid,
                    afterBuildTicks: setTicks(latTicks),
                    afterFit: function (s) { s.width = canvasWidth - yWidth - 400; s.paddingTop = 0; s.paddingBottom = 0; },
                    ticks: { display: false }
                }
            }
        }
    });
}

buildPanel('spray', 528, 78, '(a) Spray gliders',
    [sprayNorthLeg, sprayWiggle, sprayBlob, sprayInnerLeg, spraySouthFlank, spraySouthLeg, sprayEastLeg, sprayCoastal, sprayColumns, sprayWest, sprayEastCloud, sprayHook, sprayEastArcs],
    sprayEllipse, sprayShaft, sprayHead);

buildPanel('slocum', 521, 78.3, '(b) Slocum gliders',
    [slocumNorth, slocumSouth, slocumCentre, slocumDashes],
    slocumEllipse, slocumShaft, slocumHead);
</script>
</body>
</html>
